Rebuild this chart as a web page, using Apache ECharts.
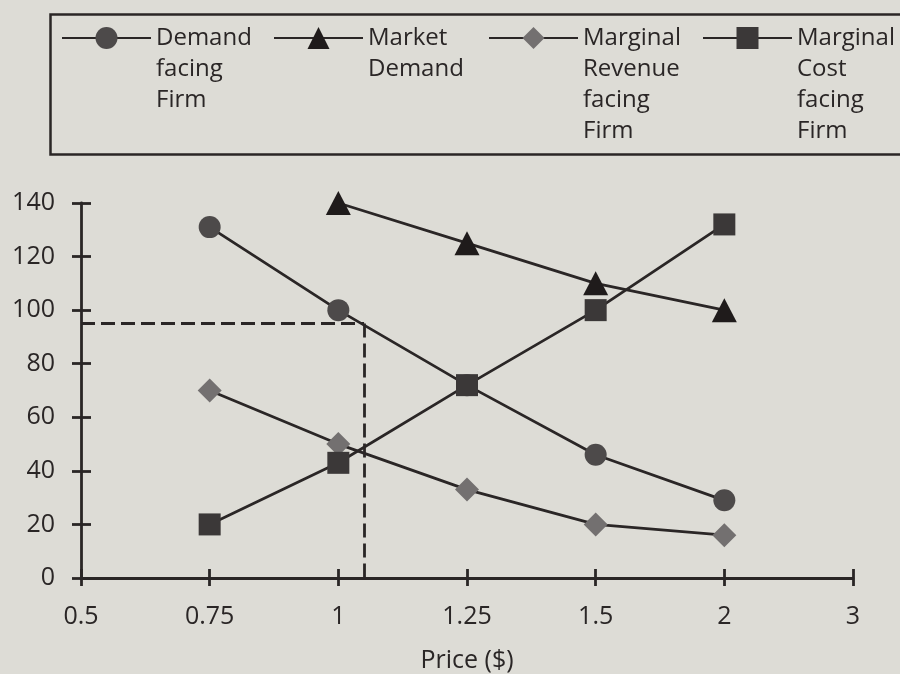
<!DOCTYPE html>
<html>
<head>
<meta charset="utf-8">
<script src="https://cdn.jsdelivr.net/npm/echarts@6/dist/echarts.min.js"></script>
<style>
  html, body { margin: 0; padding: 0; background: #dddcd6; }
  #chart { width: 900px; height: 674px; }
</style>
</head>
<body>
<div id="chart"></div>
<script>
// Price ticks along the horizontal axis (evenly spaced, not to scale)
const priceTicks = ['0.5', '0.75', '1', '1.25', '1.5', '2', '3'];
// Prices at which the curves are observed
const prices = ['0.75', '1', '1.25', '1.5', '2'];

// Quantities for each curve
const demandFirm      = [131, 100, 72, 46, 29];
const marketDemand    = [null, 140, 125, 110, 100];
const marginalRevenue = [70, 50, 33, 20, 16];
const marginalCost    = [20, 43, 72, 100, 132];

// Quantity axis
const qtyMin = 0, qtyMax = 140, qtyStep = 20;

// Profit-maximising point marked with guide lines
const optimumPrice = 1.05;
const optimumQty = 95;

const seriesNames = [
  'Demand\nfacing\nFirm',
  'Market\nDemand',
  'Marginal\nRevenue\nfacing\nFirm',
  'Marginal\nCost\nfacing\nFirm'
];

// position of a price on the evenly spaced tick axis
const tickValues = priceTicks.map(Number);
function priceToPos(p) {
  const v = Number(p);
  for (let i = 0; i < tickValues.length - 1; i++) {
    if (v >= tickValues[i] && v <= tickValues[i + 1]) {
      return i + (v - tickValues[i]) / (tickValues[i + 1] - tickValues[i]);
    }
  }
  return tickValues.length - 1;
}
function pairs(values) {
  return prices.map((p, i) => values[i] == null ? null : [priceToPos(p), values[i]])
               .filter(d => d !== null);
}

const ink = '#2a2626';
const font = 'Open Sans';
const lineW = 2.8;

const optPos = priceToPos(optimumPrice);

const chart = echarts.init(document.getElementById('chart'), null, { renderer: 'canvas' });

function mkSeries(name, values, symbol, size, fill) {
  return {
    name: name,
    type: 'line',
    data: pairs(values),
    symbol: symbol,
    symbolSize: size,
    showAllSymbol: true,
    lineStyle: { color: ink, width: lineW },
    itemStyle: { color: fill, borderWidth: 0 },
    emphasis: { disabled: true },
    animation: false,
    z: 3
  };
}

const series = [
  mkSeries(seriesNames[0], demandFirm, 'circle', 22, '#4d4a4a'),
  mkSeries(seriesNames[1], marketDemand, 'triangle', [25, 24], '#1f1b1b'),
  mkSeries(seriesNames[2], marginalRevenue, 'diamond', 24, '#737070'),
  mkSeries(seriesNames[3], marginalCost, 'rect', 22, '#3b3838')
];

series[0].markLine = {
  silent: true,
  symbol: 'none',
  animation: false,
  label: { show: false },
  lineStyle: { color: ink, width: lineW, type: [14, 6] },
  data: [
    [{ coord: [0, optimumQty] }, { coord: [optPos, optimumQty] }],
    [{ coord: [optPos, optimumQty] }, { coord: [optPos, qtyMin] }]
  ]
};

// one legend per series so each entry sits at its own column;
// the label's first line is kept level with the icon
const legendLefts = [61, 273, 488, 702];
const lineH = 31;
const itemH = 27.5;
const iconCenterY = 38;
const legends = seriesNames.map((name, i) => {
  const nLines = name.split('\n').length;
  const totalLines = 2 * nLines - 1;
  const itemTop = iconCenterY - itemH / 2;
  const boundTop = itemH / 2 - (totalLines * lineH) / 2;
  return {
    left: legendLefts[i],
    top: itemTop + boundTop,
    padding: 0,
    orient: 'horizontal',
    itemWidth: 89,
    itemHeight: itemH,
    selectedMode: false,
    data: [name],
    formatter: n => '\n'.repeat(nLines - 1) + n,
    textStyle: {
      fontFamily: font,
      fontSize: 24,
      lineHeight: lineH,
      color: ink
    }
  };
});

const axisLineStyle = { color: ink, width: lineW };

chart.setOption({
  backgroundColor: '#dddcd6',
  animation: false,
  legend: legends,
  grid: {
    left: 81, right: 47, top: 203, bottom: 96,
    containLabel: false,
    outerBoundsMode: 'none'
  },
  xAxis: [
    {
      type: 'value',
      min: 0,
      max: priceTicks.length - 1,
      interval: 1,
      position: 'bottom',
      name: 'Price ($)',
      nameLocation: 'middle',
      nameGap: 70,
      nameTextStyle: { fontFamily: font, fontSize: 25, color: ink },
      axisLine: { show: true, lineStyle: axisLineStyle },
      axisTick: { show: true, inside: false, length: 8, lineStyle: axisLineStyle },
      axisLabel: {
        show: true,
        margin: 26,
        fontFamily: font,
        fontSize: 25,
        color: ink,
        formatter: v => priceTicks[Math.round(v)]
      },
      splitLine: { show: false }
    },
    {
      type: 'value',
      min: 0,
      max: priceTicks.length - 1,
      interval: 1,
      position: 'bottom',
      offset: 0,
      axisLine: { show: false },
      axisTick: { show: true, inside: true, length: 9, lineStyle: axisLineStyle },
      axisLabel: { show: false },
      splitLine: { show: false }
    }
  ],
  yAxis: [
    {
      type: 'value',
      min: qtyMin,
      max: qtyMax,
      interval: qtyStep,
      position: 'left',
      axisLine: { show: true, lineStyle: axisLineStyle },
      axisTick: { show: true, inside: false, length: 9, lineStyle: axisLineStyle },
      axisLabel: {
        show: true,
        margin: 26,
        fontFamily: font,
        fontSize: 25,
        color: ink
      },
      splitLine: { show: false }
    },
    {
      type: 'value',
      min: qtyMin,
      max: qtyMax,
      interval: qtyStep,
      position: 'left',
      offset: 0,
      axisLine: { show: false },
      axisTick: { show: true, inside: true, length: 10, lineStyle: axisLineStyle },
      axisLabel: { show: false },
      splitLine: { show: false }
    }
  ],
  graphic: [
    {
      type: 'rect',
      left: 48,
      top: 12,
      shape: { width: 880, height: 140 },
      style: { fill: 'none', stroke: ink, lineWidth: 2.5 },
      silent: true,
      z: 1
    }
  ],
  series: series
});
</script>
</body>
</html>
